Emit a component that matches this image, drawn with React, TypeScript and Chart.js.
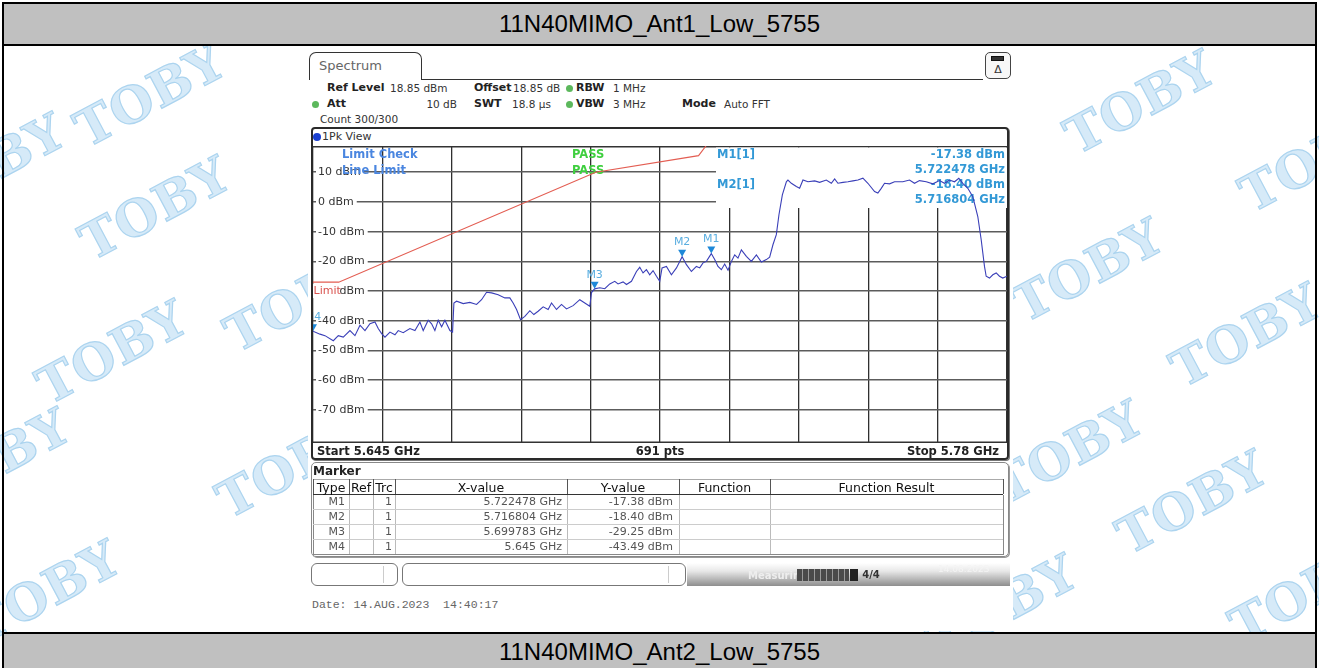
import React, { useEffect, useRef } from 'react';
import { Chart, registerables } from 'chart.js';

Chart.register(...registerables);

// ---------------- data ----------------
const startGHz = 5.645;
const stopGHz = 5.78;
const refLevelDbm = 18.85;
const bottomLevelDbm = -81.15;
const sweepPoints = 691;
const xGridGHz = [5.645, 5.6585, 5.672, 5.6855, 5.699, 5.7125, 5.726, 5.7395, 5.753, 5.7665, 5.78];
const yTickDbm = [10, 0, -10, -20, -30, -40, -50, -60, -70];

const traceFreqGHz = [
  5.64500, 5.64636, 5.64733, 5.64895, 5.64992, 5.65089, 5.65219, 5.65316, 5.65414, 5.65511,
  5.65608, 5.65705, 5.65769, 5.65835, 5.65900, 5.65997, 5.66094, 5.66158, 5.66255, 5.66385,
  5.66483, 5.66580, 5.66644, 5.66741, 5.66807, 5.66871, 5.66936, 5.67002, 5.67066, 5.67163,
  5.67215, 5.67241, 5.67293, 5.67422, 5.67552, 5.67682, 5.67779, 5.67876, 5.67974, 5.68102,
  5.68232, 5.68329, 5.68393, 5.68460, 5.68537, 5.68621, 5.68718, 5.68796, 5.68879, 5.68977,
  5.69074, 5.69140, 5.69237, 5.69334, 5.69431, 5.69560, 5.69690, 5.69787, 5.69884, 5.69917,
  5.699783, 5.70079, 5.70176, 5.70273, 5.70370, 5.70434, 5.70532, 5.70598, 5.70695, 5.70792,
  5.70856, 5.70920, 5.70986, 5.71050, 5.71115, 5.71181, 5.71245, 5.71290, 5.71375, 5.71472,
  5.71570, 5.716804, 5.71764, 5.71861, 5.71958, 5.72023, 5.72087, 5.72153, 5.722478, 5.72314,
  5.72378, 5.72444, 5.72508, 5.72573, 5.72639, 5.72703, 5.72767, 5.72833, 5.72930, 5.73027,
  5.73125, 5.73222, 5.73319, 5.73383, 5.73447, 5.73513, 5.73564, 5.73630, 5.73708, 5.73739,
  5.73805, 5.73902, 5.73966, 5.74031, 5.74128, 5.74258, 5.74355, 5.74485, 5.74583, 5.74647,
  5.74711, 5.74809, 5.74906, 5.75003, 5.75100, 5.75197, 5.75294, 5.75424, 5.75488, 5.75554,
  5.75618, 5.75716, 5.75813, 5.75974, 5.76104, 5.76201, 5.76298, 5.76429, 5.76557, 5.76687,
  5.76785, 5.76882, 5.76979, 5.77063, 5.77140, 5.77238, 5.77335, 5.77432, 5.77498, 5.77562,
  5.77595, 5.77660, 5.77724, 5.77790, 5.77854, 5.77918, 5.78000,
];

const traceLevelDbm = [
  -43.49, -44.5, -45.0, -46.7, -45.0, -45.5, -43.3, -45.0, -41.5, -43.3,
  -41.0, -40.4, -42.6, -44.3, -45.5, -43.8, -44.7, -43.3, -44.0, -42.6,
  -43.3, -40.4, -43.3, -39.8, -41.0, -43.3, -39.8, -42.0, -39.8, -43.3,
  -43.8, -34.0, -33.4, -34.2, -33.8, -34.5, -32.9, -30.4, -30.6, -31.2,
  -32.3, -32.3, -34.0, -36.2, -39.6, -38.5, -36.6, -37.9, -36.8, -35.3,
  -36.2, -34.0, -36.2, -34.5, -36.0, -34.9, -32.9, -34.0, -35.1, -30.5,
  -29.25, -28.9, -29.2, -27.6, -26.7, -27.6, -26.9, -27.8, -26.7, -23.4,
  -22.0, -23.9, -22.8, -24.5, -23.1, -25.0, -26.7, -22.2, -21.7, -24.5,
  -22.2, -18.40, -21.1, -23.4, -21.7, -22.2, -20.5, -20.0, -17.38, -19.4,
  -21.7, -22.8, -20.9, -23.0, -20.0, -17.8, -18.9, -16.1, -18.3, -20.0,
  -17.8, -20.2, -19.4, -18.6, -14.4, -11.0, -4.3, 2.4, 6.8, 7.4,
  6.3, 5.2, 4.6, 7.4, 6.8, 7.1, 6.6, 7.4, 6.3, 7.8,
  6.3, 6.6, 6.8, 7.1, 7.4, 8.0, 6.3, 3.5, 3.0, 4.6,
  6.3, 6.1, 6.8, 6.8, 7.4, 6.3, 7.2, 6.8, 6.1, 7.2,
  6.3, 7.4, 6.8, 8.0, 6.3, 4.6, 1.8, -4.9, -12.7, -21.7,
  -25.0, -25.6, -24.5, -23.9, -25.0, -25.6, -25.0,
];

const limitFreqGHz = [5.645, 5.65, 5.7, 5.72, 5.725];
const limitLevelDbm = [-27, -27, 10, 15.6, 27];

const markerNames = ['M1', 'M2', 'M3', 'M4'];
const markerTrace = [1, 1, 1, 1];
const markerFreqGHz = [5.722478, 5.716804, 5.699783, 5.645];
const markerLevelDbm = [-17.38, -18.4, -29.25, -43.49];

// ---------------- helpers ----------------
const RS = '"DejaVu Sans", Verdana, sans-serif';
const fmtFreq = (f: number) => `${parseFloat(f.toFixed(6))} GHz`;
const fmtLevel = (v: number) => `${v.toFixed(2)} dBm`;

const overlayPlugin = {
  id: 'rsOverlay',
  beforeDatasetsDraw(chart: any) {
    const { ctx, chartArea: a, scales } = chart;
    const ys = scales.y;
    ctx.save();
    ctx.strokeStyle = '#333';
    ctx.lineWidth = 1.5;
    ctx.beginPath();
    ctx.moveTo(a.left, a.top + 0.75);
    ctx.lineTo(a.right, a.top + 0.75);
    ctx.moveTo(a.left, a.bottom - 0.75);
    ctx.lineTo(a.right, a.bottom - 0.75);
    ctx.stroke();

    ctx.fillStyle = '#fff';
    ctx.fillRect(a.left + 403, a.top + 1.5, a.right - a.left - 403, 60.5);

    ctx.textBaseline = 'middle';
    ctx.font = `bold 11.5px ${RS}`;
    ctx.textAlign = 'left';
    ctx.fillStyle = '#4a86e0';
    ctx.fillText('Limit Check', a.left + 29, a.top + 9);
    ctx.fillText('Line Limit', a.left + 29, a.top + 25);
    ctx.fillStyle = '#3fcf3f';
    ctx.fillText('PASS', a.left + 259, a.top + 9);
    ctx.fillText('PASS', a.left + 259, a.top + 25);

    ctx.fillStyle = '#3399d6';
    for (let i = 0; i < 2; i++) {
      const yy = a.top + 9 + 30 * i;
      ctx.textAlign = 'left';
      ctx.fillText(`${markerNames[i]}[${markerTrace[i]}]`, a.left + 404, yy);
      ctx.textAlign = 'right';
      ctx.fillText(fmtLevel(markerLevelDbm[i]), a.right - 2, yy);
      ctx.fillText(fmtFreq(markerFreqGHz[i]), a.right - 2, yy + 15);
    }

    const py = ys.getPixelForValue(-30);
    ctx.font = `11px ${RS}`;
    ctx.fillStyle = '#fff';
    ctx.fillRect(a.left, py - 7, 26.5, 14);
    ctx.fillStyle = '#d9534f';
    ctx.textAlign = 'left';
    ctx.fillText('Limit', a.left + 0.5, py);
    ctx.restore();
  },
  afterDatasetsDraw(chart: any) {
    const { ctx, chartArea: a, scales } = chart;
    ctx.save();
    ctx.beginPath();
    ctx.rect(a.left, a.top, a.right - a.left, a.bottom - a.top);
    ctx.clip();
    ctx.font = `11px ${RS}`;
    ctx.textAlign = 'center';
    ctx.textBaseline = 'middle';
    for (let i = 0; i < markerNames.length; i++) {
      const px = scales.x.getPixelForValue(markerFreqGHz[i]);
      const py = scales.y.getPixelForValue(markerLevelDbm[i]);
      ctx.fillStyle = '#1e88d8';
      ctx.beginPath();
      ctx.moveTo(px - 4, py - 7);
      ctx.lineTo(px + 4, py - 7);
      ctx.lineTo(px, py);
      ctx.closePath();
      ctx.fill();
      ctx.fillStyle = '#5aaee0';
      ctx.fillText(markerNames[i], px, py - 14);
    }
    ctx.restore();
  },
};

// decorative watermark positions (page pixels)
const watermarkPos: [number, number][] = [
  [150, 95], [-10, 165], [155, 208], [300, 300], [112, 352], [292, 466], [45, 592], [-5, 460],
  [1140, 102], [1315, 160], [1088, 270], [1246, 335], [1068, 452], [1192, 502], [1002, 606], [1305, 592],
];

type TxtProps = {
  x: number; cy: number; s?: number; b?: boolean; c?: string; a?: 'left' | 'right' | 'center';
  f?: string; children: React.ReactNode; extra?: React.CSSProperties;
};
function Txt({ x, cy, s = 11, b = false, c = '#333', a = 'left', f = RS, children, extra }: TxtProps) {
  const tx = a === 'left' ? '0' : a === 'right' ? '-100%' : '-50%';
  return (
    <div
      style={{
        position: 'absolute', left: x, top: cy - s, height: s * 2, lineHeight: `${s * 2}px`,
        fontSize: s, fontWeight: b ? 700 : 400, color: c, fontFamily: f, whiteSpace: 'pre',
        transform: `translateX(${tx})`, ...extra,
      }}
    >
      {children}
    </div>
  );
}

function Box({ l, t, w, h, st }: { l: number; t: number; w: number; h: number; st?: React.CSSProperties }) {
  return <div style={{ position: 'absolute', left: l, top: t, width: w, height: h, boxSizing: 'border-box', ...st }} />;
}

function Dot({ x, cy, c = '#5cb85c', r = 3.5 }: { x: number; cy: number; c?: string; r?: number }) {
  return <div style={{ position: 'absolute', left: x - r, top: cy - r, width: 2 * r, height: 2 * r, borderRadius: '50%', background: c }} />;
}

const colX = [313, 349, 373, 395, 567, 679, 770, 1003];
const colHeads = ['Type', 'Ref', 'Trc', 'X-value', 'Y-value', 'Function', 'Function Result'];
const rowTop = [494, 509, 524, 539];
const rowH = 15;

export default function App() {
  const ref = useRef<HTMLCanvasElement>(null);

  useEffect(() => {
    const canvas = ref.current;
    if (!canvas) return;
    const chart = new Chart(canvas, {
      type: 'line',
      data: {
        datasets: [
          {
            label: 'Limit',
            data: limitFreqGHz.map((x, i) => ({ x, y: limitLevelDbm[i] })),
            borderColor: '#e35d52',
            borderWidth: 1.1,
            pointRadius: 0,
            tension: 0,
            clip: 0,
          },
          {
            label: 'Trc1',
            data: traceFreqGHz.map((x, i) => ({ x, y: traceLevelDbm[i] })),
            borderColor: '#3a3fb8',
            borderWidth: 1.1,
            pointRadius: 0,
            tension: 0,
            clip: 0,
          },
        ],
      },
      options: {
        animation: false,
        responsive: false,
        maintainAspectRatio: false,
        layout: { padding: 0 },
        plugins: { legend: { display: false }, tooltip: { enabled: false }, title: { display: false } },
        scales: {
          x: {
            type: 'linear',
            min: startGHz,
            max: stopGHz,
            afterBuildTicks: (s: any) => { s.ticks = xGridGHz.map((v) => ({ value: v })); },
            afterFit: (s: any) => { s.height = 0; s.paddingLeft = 0; s.paddingRight = 0; },
            ticks: { display: false },
            grid: { color: '#303030', lineWidth: 1.3, drawTicks: false },
            border: { display: false },
          },
          y: {
            type: 'linear',
            min: bottomLevelDbm,
            max: refLevelDbm,
            afterBuildTicks: (s: any) => { s.ticks = yTickDbm.map((v) => ({ value: v })); },
            afterFit: (s: any) => { s.width = 0; s.paddingTop = 0; s.paddingBottom = 0; },
            ticks: {
              mirror: true,
              padding: 5,
              color: '#333',
              font: { family: 'DejaVu Sans', size: 11 },
              callback: (v: any) => `${v} dBm`,
              showLabelBackdrop: true,
              backdropColor: '#ffffff',
              backdropPadding: { left: 2, right: 3, top: 0, bottom: 0 },
            },
            grid: { color: '#5c5c5c', lineWidth: 1.6, drawTicks: false },
            border: { display: false },
          },
        },
      } as any,
      plugins: [overlayPlugin],
    });
    return () => chart.destroy();
  }, []);

  return (
    <div style={{ position: 'relative', width: 1319, height: 668, overflow: 'hidden', background: '#fff', fontFamily: RS }}>
      <style>{'html,body{margin:0;padding:0;background:#fff;}'}</style>

      {watermarkPos.map(([x, y], i) => (
        <div
          key={i}
          style={{
            position: 'absolute', left: x, top: y, transform: 'translate(-50%,-50%) rotate(-28deg)',
            font: 'bold 50px "DejaVu Serif", serif', color: '#d6eaf8', WebkitTextStroke: '1.2px #acd4ef',
            letterSpacing: 1, whiteSpace: 'nowrap',
          }}
        >
          TOBY
        </div>
      ))}

      {/* report table frame */}
      <Box l={2} t={2} w={1315} h={720} st={{ border: '2px solid #000' }} />
      <Box l={4} t={4} w={1311} h={40} st={{ background: '#c0c0c0' }} />
      <Box l={4} t={44} w={1311} h={2} st={{ background: '#000' }} />
      <Txt x={659.5} cy={24} s={24} a="center" c="#000" f='"Liberation Sans", Arial, sans-serif'>11N40MIMO_Ant1_Low_5755</Txt>
      <Box l={4} t={632} w={1311} h={2} st={{ background: '#000' }} />
      <Box l={4} t={634} w={1311} h={40} st={{ background: '#c0c0c0' }} />
      <Txt x={659.5} cy={652} s={24} a="center" c="#000" f='"Liberation Sans", Arial, sans-serif'>11N40MIMO_Ant2_Low_5755</Txt>

      {/* analyzer screenshot background */}
      <Box l={308} t={47} w={705} h={584} st={{ background: '#fff' }} />

      {/* tab */}
      <Box l={309} t={52} w={113} h={28} st={{ border: '1.5px solid #333', borderBottom: 'none', borderRadius: '7px 7px 0 0' }} />
      <Box l={421} t={78.5} w={562} h={1.5} st={{ background: '#333' }} />
      <Txt x={319} cy={66} s={13} c="#666">Spectrum</Txt>
      <Box l={985} t={52} w={26} h={27} st={{ border: '1.5px solid #444', borderRadius: 5, background: '#f7f7f7' }} />
      <Box l={991} t={56} w={13} h={5} st={{ background: '#333', border: '1px solid #111' }} />
      <Txt x={998} cy={70} s={11} a="center" c="#333">Δ</Txt>

      {/* settings */}
      <Txt x={327} cy={88} b c="#222">Ref Level</Txt>
      <Txt x={390} cy={88} s={10.5}>18.85 dBm</Txt>
      <Txt x={474} cy={88} b c="#222">Offset</Txt>
      <Txt x={513} cy={88} s={10.5}>18.85 dB</Txt>
      <Dot x={569} cy={88} />
      <Txt x={576} cy={88} b c="#222">RBW</Txt>
      <Txt x={613} cy={88} s={10.5}>1 MHz</Txt>

      <Dot x={315} cy={104} />
      <Txt x={327} cy={104} b c="#222">Att</Txt>
      <Txt x={457} cy={104} s={10.5} a="right">10 dB</Txt>
      <Txt x={474} cy={104} b c="#222">SWT</Txt>
      <Txt x={512} cy={104} s={10.5}>18.8 µs</Txt>
      <Dot x={569} cy={104} />
      <Txt x={576} cy={104} b c="#222">VBW</Txt>
      <Txt x={613} cy={104} s={10.5}>3 MHz</Txt>
      <Txt x={682} cy={104} b c="#222">Mode</Txt>
      <Txt x={724} cy={104} s={10.5}>Auto FFT</Txt>
      <Txt x={320} cy={119} s={10.5}>Count 300/300</Txt>

      {/* diagram frame */}
      <Box l={311} t={127} w={698} h={333} st={{ border: '2px solid #2a2a2a', borderRadius: 4, boxShadow: '1px 1px 0 #777' }} />
      <Dot x={317} cy={137} c="#1a3fd0" r={4} />
      <Txt x={322} cy={137}>1Pk View</Txt>
      <canvas ref={ref} width={694} height={297} style={{ position: 'absolute', left: 313, top: 146, width: 694, height: 297 }} />
      <Txt x={317} cy={451} s={11.5} b c="#222">{`Start ${startGHz} GHz`}</Txt>
      <Txt x={660} cy={451} s={11.5} b c="#222" a="center">{`${sweepPoints} pts`}</Txt>
      <Txt x={999} cy={451} s={11.5} b c="#222" a="right">{`Stop ${stopGHz} GHz`}</Txt>

      {/* marker table */}
      <Box l={311} t={462} w={698} h={95} st={{ border: '1px solid #888', borderRadius: 5, boxShadow: '1px 1px 0 #999' }} />
      <Txt x={313} cy={471} s={12} b c="#222">Marker</Txt>
      <Box l={colX[0]} t={479} w={colX[7] - colX[0]} h={1} st={{ background: '#aaa' }} />
      <Box l={colX[0]} t={493.5} w={colX[7] - colX[0]} h={1.5} st={{ background: '#333' }} />
      {colX.map((x, i) => (
        <Box key={'hv' + i} l={x - 0.5} t={479} w={1} h={15} st={{ background: '#555' }} />
      ))}
      {colX.map((x, i) => (
        <Box key={'bv' + i} l={x - 0.5} t={495} w={1} h={60} st={{ background: i === 0 || i === 7 ? '#888' : '#bbb' }} />
      ))}
      {rowTop.map((t, i) => (
        <Box key={'rl' + i} l={colX[0]} t={t + rowH} w={colX[7] - colX[0]} h={1} st={{ background: i === 3 ? '#888' : '#ccc' }} />
      ))}
      {colHeads.map((h, i) => (
        <Txt key={'h' + i} x={(colX[i] + colX[i + 1]) / 2} cy={487} s={12.5} a="center" c="#111">{h}</Txt>
      ))}
      {markerNames.map((m, i) => (
        <React.Fragment key={'r' + i}>
          <Txt x={colX[1] - 4} cy={rowTop[i] + 8} a="right" c="#555">{m}</Txt>
          <Txt x={colX[3] - 3} cy={rowTop[i] + 8} a="right" c="#555">{String(markerTrace[i])}</Txt>
          <Txt x={colX[4] - 5} cy={rowTop[i] + 8} a="right" c="#555">{fmtFreq(markerFreqGHz[i])}</Txt>
          <Txt x={colX[5] - 6} cy={rowTop[i] + 8} a="right" c="#555">{fmtLevel(markerLevelDbm[i])}</Txt>
        </React.Fragment>
      ))}

      {/* status bar */}
      <Box l={311} t={563} w={87} h={23} st={{ border: '1px solid #777', borderRadius: 6, background: '#fff' }} />
      <Box l={383} t={566} w={1} h={17} st={{ background: '#ccc' }} />
      <Box l={402} t={563} w={284} h={23} st={{ border: '1px solid #777', borderRadius: 6, background: '#fff' }} />
      <Box l={668} t={566} w={1} h={17} st={{ background: '#ccc' }} />
      <Box l={687} t={563} w={323} h={23} st={{ background: 'linear-gradient(180deg,#ffffff 0%,#e8e8e8 35%,#8e8e8e 100%)' }} />
      <Txt x={748} cy={576} s={10} b c="#eeeeee">Measuring...</Txt>
      <Box l={797} t={569} w={52} h={12} st={{ background: 'repeating-linear-gradient(90deg,#4a4a4a 0 5px,#9a9a9a 5px 6px)' }} />
      <Box l={850} t={569} w={8} h={12} st={{ background: '#222' }} />
      <Txt x={871} cy={575} s={10} b c="#333" a="center">4/4</Txt>
      <Txt x={938} cy={569} s={9} c="#f4f4f4">14.08.2023</Txt>

      <Txt x={312} cy={604} s={11.5} c="#666" f='"Liberation Mono", "Courier New", monospace'>Date: 14.AUG.2023  14:40:17</Txt>
    </div>
  );
}
